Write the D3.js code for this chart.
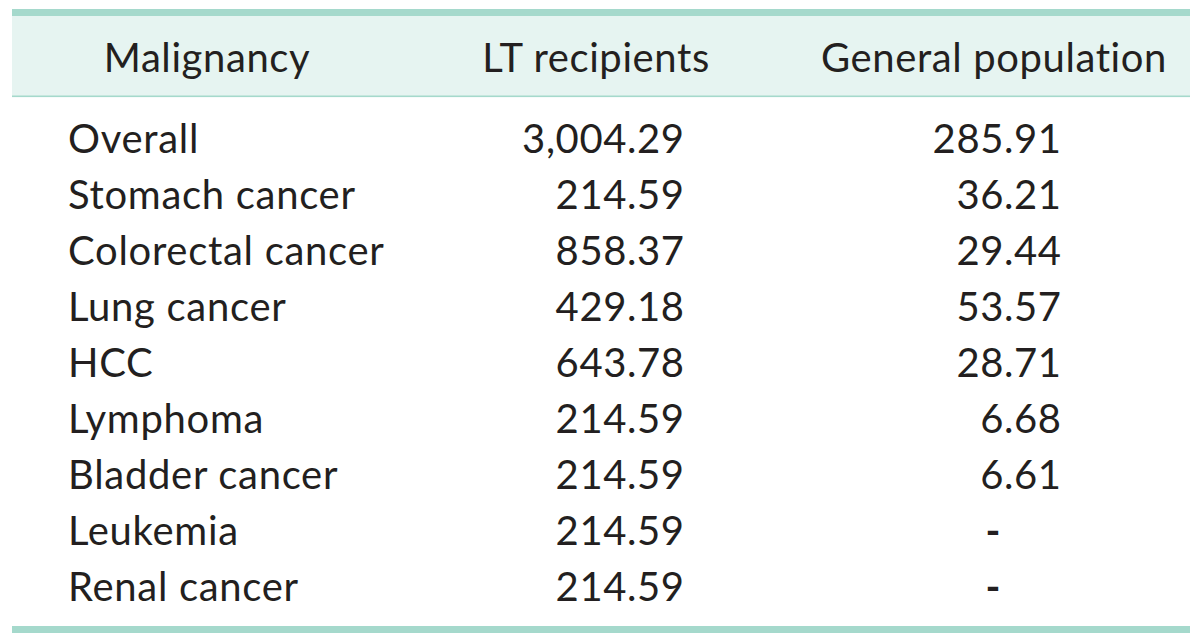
<!DOCTYPE html>
<html>
<head>
<meta charset="utf-8">
<script src="https://cdn.jsdelivr.net/npm/d3@7"></script>
<style>
  html, body { margin: 0; padding: 0; background: #ffffff; }
  svg { display: block; }
  text { font-family: Lato, "Open Sans", sans-serif; fill: #231f20; font-weight: 400; }
</style>
</head>
<body>
<svg id="chart" width="1200" height="640"></svg>
<script>
const headers = ["Malignancy", "LT recipients", "General population"];
const malignancies = ["Overall", "Stomach cancer", "Colorectal cancer", "Lung cancer", "HCC",
  "Lymphoma", "Bladder cancer", "Leukemia", "Renal cancer"];
const ltRecipients = [3004.29, 214.59, 858.37, 429.18, 643.78, 214.59, 214.59, 214.59, 214.59];
const generalPopulation = [285.91, 36.21, 29.44, 53.57, 28.71, 6.68, 6.61, null, null];

const svg = d3.select("#chart");
const W = 1200, H = 640;
const left = 12, right = 1190;
const fontSize = 40;
const fmt = d3.format(",.2f");

// frame
svg.append("rect").attr("x", left).attr("y", 16).attr("width", right - left).attr("height", 80)
  .attr("fill", "#e6f4f1");
svg.append("rect").attr("x", left).attr("y", 9).attr("width", right - left).attr("height", 7)
  .attr("fill", "#a5d9cc");
svg.append("rect").attr("x", left).attr("y", 95.5).attr("width", right - left).attr("height", 1.6)
  .attr("fill", "#a5d9cc");
svg.append("rect").attr("x", left).attr("y", 626).attr("width", right - left).attr("height", 7)
  .attr("fill", "#a5d9cc");

// header
const headerX = [207, 596, 994];
svg.selectAll("text.hdr").data(headers).join("text")
  .attr("class", "hdr")
  .attr("x", (d, i) => headerX[i]).attr("y", 72)
  .attr("text-anchor", "middle")
  .attr("font-size", fontSize)
  .style("letter-spacing", "0.6px")
  .text(d => d);

// rows
const y = d3.scalePoint().domain(malignancies).range([153, 601]);

const rows = svg.selectAll("g.row").data(malignancies.map((m, i) => ({
  name: m, lt: ltRecipients[i], gp: generalPopulation[i]
}))).join("g").attr("class", "row")
  .attr("transform", d => `translate(0,${y(d.name)})`);

rows.append("text").attr("x", 68).attr("y", 0)
  .attr("font-size", fontSize).style("letter-spacing", "0.7px")
  .text(d => d.name);

function decimalCell(sel, accessor, decX, dashX) {
  sel.each(function(d) {
    const v = accessor(d);
    const g = d3.select(this);
    if (v == null) {
      g.append("text").attr("x", dashX).attr("y", 0).attr("text-anchor", "middle")
        .attr("font-size", fontSize).style("font-weight", 700).text("-");
      return;
    }
    const s = fmt(v);
    const k = s.indexOf(".");
    g.append("text").attr("x", decX).attr("y", 0).attr("text-anchor", "end")
      .attr("font-size", fontSize).style("letter-spacing", "0.6px").text(s.slice(0, k));
    g.append("text").attr("x", decX).attr("y", 0).attr("text-anchor", "start")
      .attr("font-size", fontSize).style("letter-spacing", "0.6px").text(s.slice(k));
  });
}
decimalCell(rows, d => d.lt, 627, 596);
decimalCell(rows, d => d.gp, 1004, 993);
</script>
</body>
</html>
